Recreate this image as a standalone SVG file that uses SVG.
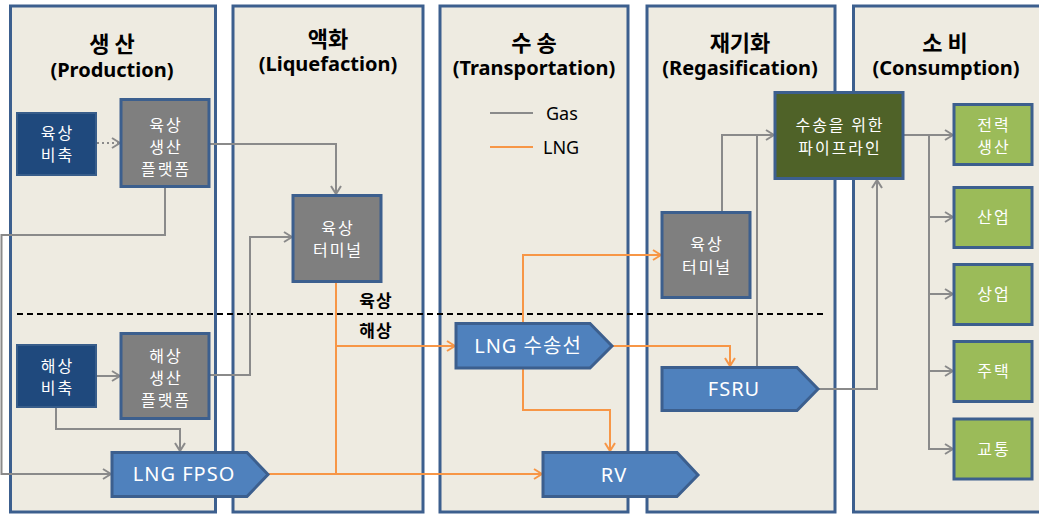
<svg xmlns="http://www.w3.org/2000/svg" width="1039" height="514" viewBox="0 0 1039 514">
<style>
.panel{fill:#eeebe1;stroke:#3c5f8e;stroke-width:3}
.ttl{font-family:"Noto Sans CJK KR","Noto Sans",sans-serif;font-weight:bold;font-size:22px;fill:#000;text-anchor:middle}
.sub{font-family:"Noto Sans","Noto Sans CJK KR",sans-serif;font-weight:bold;font-size:20px;fill:#000;text-anchor:middle}
.nt{font-family:"Noto Sans CJK KR","Noto Sans",sans-serif;font-size:16px;letter-spacing:2px;fill:#fff;text-anchor:middle}
.big{font-family:"Noto Sans","Noto Sans CJK KR",sans-serif;font-size:20px;letter-spacing:1px;fill:#fff;text-anchor:middle}
.lg{font-family:"Noto Sans","Noto Sans CJK KR",sans-serif;font-size:18px;fill:#000}
.lbl{font-family:"Noto Sans CJK KR",sans-serif;font-weight:bold;font-size:17px;letter-spacing:1px;fill:#000;text-anchor:middle}
.navy{fill:#1f497d;stroke:#385d8a;stroke-width:2}
.gray{fill:#7f7f7f;stroke:#3c5f8e;stroke-width:3}
.dgreen{fill:#4f6228;stroke:#3c5f8e;stroke-width:3}
.lgreen{fill:#9bbb59;stroke:#3c5f8e;stroke-width:3}
.ship{fill:#4f81bd;stroke:#3c5f8e;stroke-width:3}
.g{fill:none;stroke:#8a8a8a;stroke-width:2}
.o{fill:none;stroke:#f79646;stroke-width:2}
</style>
<defs>
<marker id="ag" viewBox="0 0 10 12" refX="9" refY="6" markerWidth="10" markerHeight="12" markerUnits="userSpaceOnUse" orient="auto"><path d="M1,1 L9,6 L1,11" fill="none" stroke="#8a8a8a" stroke-width="2"/></marker>
<marker id="ao" viewBox="0 0 10 12" refX="9" refY="6" markerWidth="10" markerHeight="12" markerUnits="userSpaceOnUse" orient="auto"><path d="M1,1 L9,6 L1,11" fill="none" stroke="#f79646" stroke-width="2"/></marker>
</defs>
<rect width="1039" height="514" fill="#fff"/>
<g id="panels">
<rect class="panel" x="10.5" y="6" width="205" height="506"/>
<rect class="panel" x="233" y="6" width="190" height="506"/>
<rect class="panel" x="440" y="6" width="188" height="506"/>
<rect class="panel" x="647" y="6" width="188" height="506"/>
<rect class="panel" x="853.5" y="6" width="195" height="506"/>
<text class="ttl" x="112" y="52">생 산</text>
<text class="sub" x="112" y="77">(Production)</text>
<text class="ttl" x="328" y="47">액화</text>
<text class="sub" x="328" y="71">(Liquefaction)</text>
<text class="ttl" x="534" y="51">수 송</text>
<text class="sub" x="534" y="75">(Transportation)</text>
<text class="ttl" x="740" y="51">재기화</text>
<text class="sub" x="740" y="75">(Regasification)</text>
<text class="ttl" x="945" y="51">소 비</text>
<text class="sub" x="946" y="75">(Consumption)</text>
</g>
<g id="legend">
<line x1="490" y1="113" x2="533" y2="113" class="g"/>
<text class="lg" x="546" y="120">Gas</text>
<line x1="490" y1="147" x2="533" y2="147" class="o"/>
<text class="lg" x="543" y="154">LNG</text>
</g>
<g id="divider">
<line x1="17" y1="314" x2="825" y2="314" stroke="#000" stroke-width="2" stroke-dasharray="6,4"/>
<text class="lbl" x="376" y="307">육상</text>
<text class="lbl" x="376" y="337">해상</text>
</g>
<g id="connectors">
<line x1="97" y1="143" x2="120" y2="143" class="g" stroke-dasharray="2,3" marker-end="url(#ag)"/>
<path class="g" d="M209,144 H336 V194" marker-end="url(#ag)"/>
<path class="g" d="M165,187 V235 H1.5 V474 H111" marker-end="url(#ag)"/>
<line x1="97" y1="376" x2="120" y2="376" class="g" marker-end="url(#ag)"/>
<path class="g" d="M209,375 H250 V237 H292" marker-end="url(#ag)"/>
<path class="g" d="M56,407 V429 H180 V451" marker-end="url(#ag)"/>
<path class="o" d="M268,474 H542" marker-end="url(#ao)"/>
<path class="o" d="M336,283 V474"/>
<path class="o" d="M336,346 H455" marker-end="url(#ao)"/>
<path class="o" d="M523,322 V255 H661" marker-end="url(#ao)"/>
<path class="o" d="M612,346 H730 V366" marker-end="url(#ao)"/>
<path class="o" d="M523,369 V410 H610 V451" marker-end="url(#ao)"/>
<path class="g" d="M722,211 V135 H774" marker-end="url(#ag)"/>
<path class="g" d="M757,366 V135"/>
<path class="g" d="M818,389 H877 V180" marker-end="url(#ag)"/>
<path class="g" d="M903,135 H953" marker-end="url(#ag)"/>
<path class="g" d="M929,135 V449 H953" marker-end="url(#ag)"/>
<path class="g" d="M929,217 H953" marker-end="url(#ag)"/>
<path class="g" d="M929,294 H953" marker-end="url(#ag)"/>
<path class="g" d="M929,371 H953" marker-end="url(#ag)"/>
</g>
<g id="n-onshore-reserve">
<rect class="navy" x="17" y="113" width="79" height="62"/>
<text class="nt" x="57.5" y="139">육상</text>
<text class="nt" x="57.5" y="161">비축</text>
</g>
<g id="n-onshore-platform">
<rect class="gray" x="121" y="99.5" width="88" height="87"/>
<text class="nt" x="166" y="131">육상</text>
<text class="nt" x="166" y="153">생산</text>
<text class="nt" x="166" y="175">플랫폼</text>
</g>
<g id="n-liq-terminal">
<rect class="gray" x="293" y="195.5" width="88" height="86"/>
<text class="nt" x="338" y="234">육상</text>
<text class="nt" x="338" y="256">터미널</text>
</g>
<g id="n-offshore-reserve">
<rect class="navy" x="17" y="345" width="79" height="62"/>
<text class="nt" x="57.5" y="372">해상</text>
<text class="nt" x="57.5" y="394">비축</text>
</g>
<g id="n-offshore-platform">
<rect class="gray" x="121" y="333.5" width="88" height="85"/>
<text class="nt" x="166" y="362">해상</text>
<text class="nt" x="166" y="384">생산</text>
<text class="nt" x="166" y="406">플랫폼</text>
</g>
<g id="n-fpso">
<path class="ship" d="M112,452.5 H247 L268,474.5 L247,496.5 H112 Z"/>
<text class="big" x="184" y="481">LNG FPSO</text>
</g>
<g id="n-carrier">
<path class="ship" d="M456,323.5 H590 L612,346 L590,368 H456 Z"/>
<text class="big" x="528" y="353">LNG 수송선</text>
</g>
<g id="n-rv">
<path class="ship" d="M543,452.5 H677 L698,475 L677,496.5 H543 Z"/>
<text class="big" x="614" y="482">RV</text>
</g>
<g id="n-regas-terminal">
<rect class="gray" x="662" y="212.5" width="88" height="85"/>
<text class="nt" x="707" y="250">육상</text>
<text class="nt" x="707" y="273">터미널</text>
</g>
<g id="n-fsru">
<path class="ship" d="M662,367.5 H797 L818,389 L797,410.5 H662 Z"/>
<text class="big" x="734" y="396">FSRU</text>
</g>
<g id="n-pipeline">
<rect class="dgreen" x="775" y="92.5" width="128" height="86"/>
<text class="nt" x="840" y="131">수송을 위한</text>
<text class="nt" x="840" y="154">파이프라인</text>
</g>
<g id="n-power">
<rect class="lgreen" x="954" y="104.5" width="78" height="60"/>
<text class="nt" x="994" y="131">전력</text>
<text class="nt" x="994" y="153">생산</text>
</g>
<g id="n-industry">
<rect class="lgreen" x="954" y="187.5" width="78" height="60"/>
<text class="nt" x="994" y="223">산업</text>
</g>
<g id="n-commerce">
<rect class="lgreen" x="954" y="264.5" width="78" height="60"/>
<text class="nt" x="994" y="300">상업</text>
</g>
<g id="n-residential">
<rect class="lgreen" x="954" y="341.5" width="78" height="60"/>
<text class="nt" x="994" y="377">주택</text>
</g>
<g id="n-transport">
<rect class="lgreen" x="954" y="419" width="78" height="60"/>
<text class="nt" x="994" y="455">교통</text>
</g>
</svg>
